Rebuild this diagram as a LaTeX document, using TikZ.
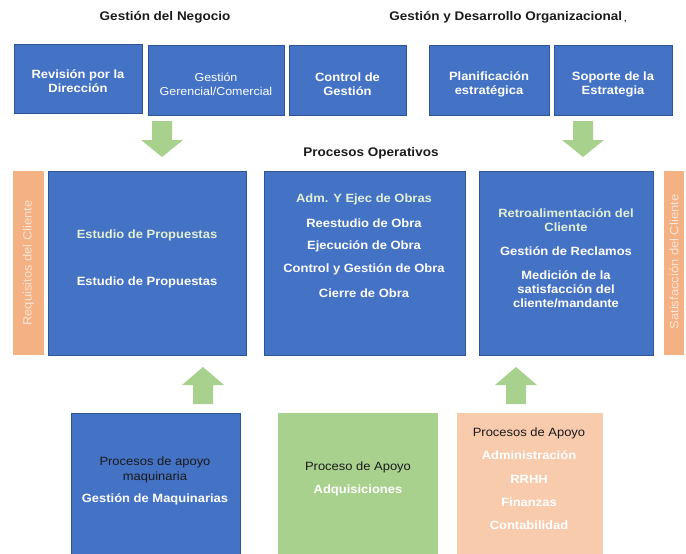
\documentclass[tikz,border=0pt]{standalone}
\usepackage{fontspec}
\setmainfont{Liberation Sans}[FakeStretch=1.08]
\definecolor{boxblue}{HTML}{4472C4}
\definecolor{boxedge}{HTML}{2F5597}
\definecolor{softgreen}{HTML}{A9D18E}
\definecolor{salmon}{HTML}{F4B183}
\definecolor{peach}{HTML}{F8CBAD}
\definecolor{paletext}{HTML}{E2F0D9}
\definecolor{bandtext}{HTML}{FBE5D6}
\definecolor{darktext}{HTML}{1A1A1A}
\tikzset{
  block/.style={rectangle, inner sep=0pt, outer sep=0pt, anchor=north west},
  bluebox/.style={block, fill=boxblue, draw=boxedge, line width=0.7pt},
  greenbox/.style={block, fill=softgreen},
  bandbox/.style={block, fill=salmon},
  peachbox/.style={block, fill=peach},
  heading/.style={font=\fontsize{12.5}{15}\bfseries\selectfont, text=darktext, inner sep=0pt},
  boxtext/.style={font=\fontsize{12}{14}\bfseries\selectfont, text=white, align=center, inner sep=0pt},
  thintext/.style={font=\fontsize{11.5}{14}\selectfont, text=white, align=center, inner sep=0pt},
  bandlabel/.style={font=\fontsize{12}{14}\selectfont, text=bandtext, rotate=90, inner sep=0pt},
  pics/downarrow/.style={code={
    \fill[softgreen] (-10,0) -- (10,0) -- (10,19) -- (21,19) -- (0,36)
      -- (-21,19) -- (-10,19) -- cycle;}},
  pics/uparrow/.style={code={
    \fill[softgreen] (0,0) -- (21,18) -- (10,18) -- (10,37) -- (-10,37)
      -- (-10,18) -- (-21,18) -- cycle;}},
}
\begin{document}
\begin{tikzpicture}[x=1pt,y=-1pt]
\useasboundingbox (0,0) rectangle (686,554);

% headings
\node[heading] (hneg) at (165,17) {Gestión del Negocio};
\node[heading] (hdes) at (508,17) {Gestión y Desarrollo Organizacional\,\raisebox{-1pt}{\fontsize{8}{8}\selectfont ,}};
\node[heading] (hope) at (371,153) {Procesos Operativos};

% top row of management boxes
\node[bluebox, minimum width=128pt, minimum height=69pt] (rev) at (14,44) {};
\node[bluebox, minimum width=136pt, minimum height=70pt] (ger) at (148,45) {};
\node[bluebox, minimum width=117pt, minimum height=70pt] (ctl) at (289,45) {};
\node[bluebox, minimum width=120pt, minimum height=70pt] (pla) at (429,45) {};
\node[bluebox, minimum width=118pt, minimum height=70pt] (sop) at (554,45) {};

\node[boxtext] (rev-t) at ([yshift=-3pt]rev.center) {Revisión por la\\Dirección};
\node[thintext] (ger-t) at ([yshift=-4.5pt]ger.center) {Gestión\\Gerencial/Comercial};
\node[boxtext] (ctl-t) at ([yshift=-4.5pt]ctl.center) {Control de\\Gestión};
\node[boxtext] (pla-t) at ([yshift=-4pt]pla.center) {Planificación\\estratégica};
\node[boxtext] (sop-t) at ([yshift=-4.5pt]sop.center) {Soporte de la\\Estrategia};

% arrows from management into operations
\pic at (162,121) {downarrow};
\pic at (583,121) {downarrow};

% operational processes
\node[bandbox, minimum width=31pt, minimum height=184pt] (req) at (13,171) {};
\node[bluebox, minimum width=198pt, minimum height=184pt] (est) at (48,171) {};
\node[bluebox, minimum width=201pt, minimum height=184pt] (adm) at (264,171) {};
\node[bluebox, minimum width=174pt, minimum height=184pt] (ret) at (479,171) {};
\node[bandbox, minimum width=20pt, minimum height=184pt] (sat) at (664,171) {};

\node[bandlabel] (req-t) at (28.5,263) {Requisitos del Cliente};
\node[bandlabel] (sat-t) at (674,262) {Satisfacción del Cliente};

\node[boxtext, text=paletext] (est-a) at (147,235) {Estudio de Propuestas};
\node[boxtext] (est-b) at (147,282) {Estudio de Propuestas};

\node[boxtext, text=paletext] (adm-a) at (364,199) {Adm. Y Ejec de Obras};
\node[boxtext] (adm-b) at (364,223) {Reestudio de Obra};
\node[boxtext] (adm-c) at (364,246.5) {Ejecución de Obra};
\node[boxtext] (adm-d) at (364,269.5) {Control y Gestión de Obra};
\node[boxtext] (adm-e) at (364,293) {Cierre de Obra};

\node[boxtext, text=paletext] (ret-a) at (566,220.5) {Retroalimentación del\\Cliente};
\node[boxtext] (ret-b) at (566,251) {Gestión de Reclamos};
\node[boxtext] (ret-c) at (566,289.5) {Medición de la\\satisfacción del\\cliente/mandante};

% support processes feeding upwards
\pic at (203,367) {uparrow};
\pic at (516,367) {uparrow};

\node[bluebox, minimum width=169pt, minimum height=145pt] (maq) at (71,413) {};
\node[greenbox, minimum width=160pt, minimum height=145pt] (adq) at (278,413) {};
\node[peachbox, minimum width=146pt, minimum height=145pt] (apo) at (457,413) {};

\node[thintext, font=\fontsize{12}{15}\selectfont, text=darktext] (maq-a) at (155,469.5) {Procesos de apoyo\\maquinaria};
\node[boxtext] (maq-b) at (155,499) {Gestión de Maquinarias};

\node[thintext, font=\fontsize{12}{15}\selectfont, text=darktext] (adq-a) at (358,467) {Proceso de Apoyo};
\node[boxtext] (adq-b) at (358,490) {Adquisiciones};

\node[thintext, font=\fontsize{12}{15}\selectfont, text=darktext] (apo-a) at (529,433) {Procesos de Apoyo};
\node[boxtext] (apo-b) at (529,455) {Administración};
\node[boxtext] (apo-c) at (529,479) {RRHH};
\node[boxtext] (apo-d) at (529,502.5) {Finanzas};
\node[boxtext] (apo-e) at (529,525) {Contabilidad};
\end{tikzpicture}
\end{document}
